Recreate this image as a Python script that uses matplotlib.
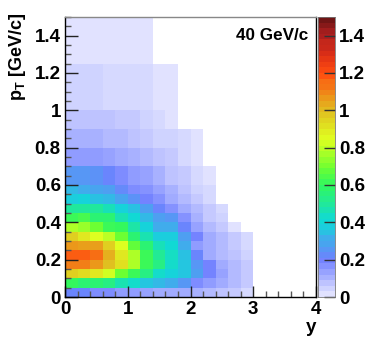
import numpy as np
import matplotlib
matplotlib.use('Agg')
import matplotlib.pyplot as plt
from matplotlib.colors import LinearSegmentedColormap, BoundaryNorm

plt.rcParams['font.family'] = ['Liberation Sans', 'DejaVu Sans']
plt.rcParams['font.weight'] = 'bold'
plt.rcParams['mathtext.fontset'] = 'custom'
plt.rcParams['mathtext.bf'] = 'Liberation Sans:bold'
plt.rcParams['mathtext.rm'] = 'Liberation Sans:bold'
plt.rcParams['mathtext.it'] = 'Liberation Sans:bold'

y_edges = np.arange(0, 3.01, 0.2)
pt_edges = [0, .05, .1, .15, .2, .25, .3, .35, .4, .45, .5, .55, .6, .7, .8, .9, 1.0, 1.25, 1.5]
nan = np.nan
rows = [
 [.22,.21,.19,.18,.16,.15,.14,.13,.13,.12,.11,.09,.08,.06,.04],
 [.60,.58,.58,.54,.47,.42,.36,.33,.30,.26,.19,.16,.12,.10,.07],
 [.97,.93,.90,.83,.70,.62,.55,.43,.40,.36,.27,.20,.14,.10,.07],
 [1.12,1.12,1.07,1.0,.92,.78,.62,.55,.42,.37,.26,.20,.13,.09,.065],
 [1.17,1.18,1.14,1.02,.90,.78,.62,.52,.44,.35,.21,.13,.10,.08,.05],
 [1.07,1.05,1.05,.97,.85,.68,.58,.45,.41,.30,.16,.13,.09,.07,.035],
 [.97,.90,.85,.80,.70,.58,.47,.38,.38,.27,.20,.13,.09,.06,.03],
 [.78,.75,.70,.62,.60,.48,.40,.30,.30,.22,.14,.09,.06,.025,nan],
 [.62,.63,.58,.57,.47,.41,.33,.28,.26,.17,.11,.07,.045,nan,nan],
 [.50,.50,.50,.45,.39,.35,.27,.22,.17,.13,.09,.06,.03,nan,nan],
 [.38,.39,.35,.33,.29,.25,.20,.17,.13,.09,.06,.035,nan,nan,nan],
 [.33,.31,.29,.27,.23,.19,.17,.14,.11,.08,.055,.03,nan,nan,nan],
 [.26,.26,.25,.22,.19,.15,.14,.11,.08,.06,.035,.02,nan,nan,nan],
 [.16,.16,.15,.14,.13,.11,.09,.08,.06,.035,.015,nan,nan,nan,nan],
 [.11,.115,.11,.10,.09,.08,.065,.055,.045,.03,.02,nan,nan,nan,nan],
 [.085,.08,.08,.075,.065,.06,.05,.035,.025,nan,nan,nan,nan,nan,nan],
 [.05,.05,.045,.04,.035,.035,.03,.025,.02,nan,nan,nan,nan,nan,nan],
 [.025,.02,.02,.02,.02,.02,.015,nan,nan,nan,nan,nan,nan,nan,nan],
]
values = np.ma.masked_invalid(np.array(rows))
x_ticks = [0, 1, 2, 3, 4]
y_ticks = [0, .2, .4, .6, .8, 1, 1.2, 1.4]
y_labels = ['0', '0.2', '0.4', '0.6', '0.8', '1', '1.2', '1.4']

stops = [(0, '#e8e8ff'), (.2/1.5, '#7080ff'), (.4/1.5, '#10d8d8'), (.6/1.5, '#30f860'),
         (.7/1.5, '#70ff30'), (.85/1.5, '#e0ff20'), (1.0/1.5, '#e0c020'), (1.2/1.5, '#ff5010'),
         (1.3/1.5, '#e03015'), (1.4/1.5, '#b02020'), (1, '#701515')]
cmap = LinearSegmentedColormap.from_list('rootlike', stops, N=256)
levels = np.linspace(0, 1.5, 101)
norm = BoundaryNorm(levels, 256)

W, H = 386, 350
fig = plt.figure(figsize=(W/100, H/100), dpi=100)
ax = fig.add_axes([65/W, 1-297/H, 251/W, 280/H])
ax.pcolormesh(y_edges, pt_edges, values, cmap=cmap, norm=norm, linewidth=0)
ax.set_xlim(0, 4)
ax.set_ylim(0, 1.5)
ax.set_xticks(x_ticks)
ax.set_xticks(np.arange(0, 4.01, .2), minor=True)
ax.set_yticks(y_ticks)
ax.set_yticklabels(y_labels)
ax.set_yticks(np.arange(0, 1.51, .05), minor=True)
ax.tick_params(axis='both', which='major', direction='in', labelsize=13.5, width=1, color='#222222')
ax.tick_params(axis='x', which='major', length=8, pad=3)
ax.tick_params(axis='x', which='minor', direction='in', length=4, width=1, color='#555555')
ax.tick_params(axis='y', which='major', length=9, pad=3)
ax.tick_params(axis='y', which='minor', direction='in', length=4.5, width=1, color='#555555')
for s in ['left', 'bottom', 'right']:
    ax.spines[s].set_linewidth(1.0)
ax.spines['top'].set_linewidth(1.0)
ax.spines['top'].set_color('#888888')
fig.text(311/W, 1-328/H, 'y', fontsize=13.5, ha='center', va='center')
fig.text(18/W, 1-57/H, r'$\mathbf{p_T}$ [GeV/c]', fontsize=13, rotation=90, ha='center', va='center')
fig.text(272.5/W, 1-36/H, '40 GeV/c', fontsize=12.3, ha='center', va='center')

cax = fig.add_axes([318/W, 1-297/H, 17/W, 280/H])
bar_levels = np.linspace(0, 1.5, 51)
centers = (bar_levels[:-1] + bar_levels[1:]) / 2
cax.pcolormesh([0, 1], bar_levels, centers[:, None], cmap=cmap, norm=norm)
cax.set_xlim(0, 1)
cax.set_ylim(0, 1.5)
cax.set_xticks([])
cax.yaxis.tick_right()
cax.set_yticks(y_ticks)
cax.set_yticklabels(y_labels)
cax.tick_params(axis='y', direction='in', length=8, width=1, labelsize=13.5, pad=3, color='#333333')
for s in cax.spines.values():
    s.set_linewidth(.6)
    s.set_color('#777777')
fig.savefig('out.png', dpi=100)
